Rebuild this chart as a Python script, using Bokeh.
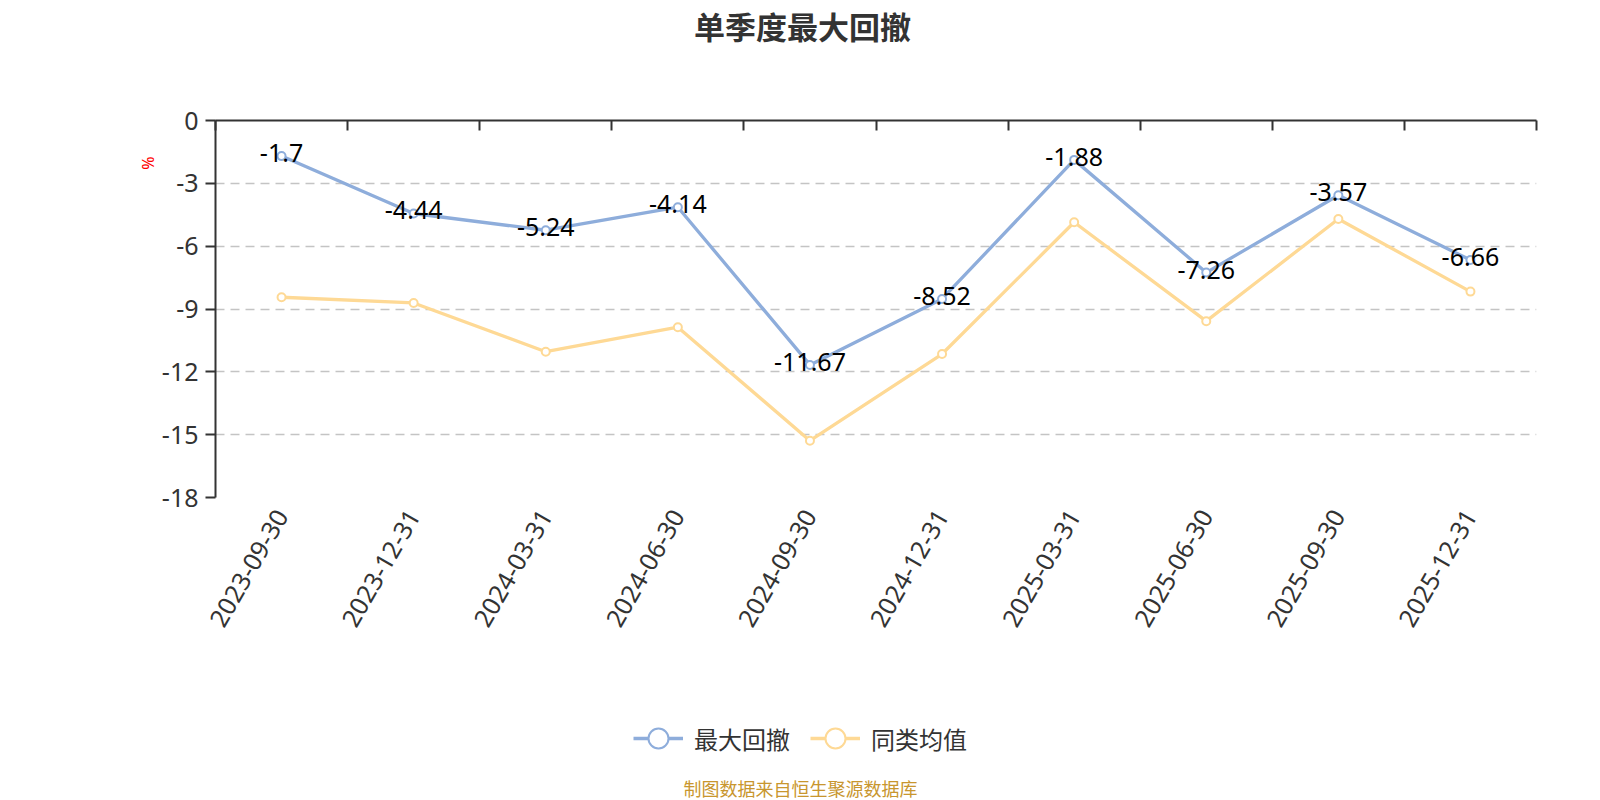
import math
from bokeh.plotting import figure
from bokeh.models import (Range1d, LinearAxis, FixedTicker, Legend, LegendItem,
                          ColumnDataSource, Grid, Title, Label)
from bokeh.layouts import column
from bokeh.embed import file_html
from bokeh.resources import INLINE
from bokeh.core.properties import value

# ---- data ----
dates = ["2023-09-30", "2023-12-31", "2024-03-31", "2024-06-30", "2024-09-30",
         "2024-12-31", "2025-03-31", "2025-06-30", "2025-09-30", "2025-12-31"]
max_drawdown = [-1.7, -4.44, -5.24, -4.14, -11.67, -8.52, -1.88, -7.26, -3.57, -6.66]
peer_avg = [-8.44, -8.71, -11.04, -9.87, -15.29, -11.15, -4.86, -9.58, -4.70, -8.17]
y_ticks = [0, -3, -6, -9, -12, -15, -18]
y_tick_labels = ["0", "-3", "-6", "-9", "-12", "-15", "-18"]
series_names = ["最大回撤", "同类均值"]
title_text = "单季度最大回撤"
footer_text = "制图数据来自恒生聚源数据库"
unit_text = "%"

BLUE = "#8eaddb"
YELLOW = "#fed995"
AXIS = "#333333"
NUM_FONT = "Noto Sans"
CJK_FONT = "Noto Sans CJK SC"

FW, FH = 1321, 377
L, R = 215, 64
TOP_H = 50            # title strip
T = 120 - TOP_H       # main figure top border
B = 140
BOTTOM_H = 800 - (TOP_H + T + FH + B)
PAGE_W = L + FW + R


def strip(height):
    f = figure(frame_width=FW, frame_height=height, output_backend="svg", toolbar_location=None,
               x_range=Range1d(L, L + FW), y_range=Range1d(0, height),
               x_axis_location=None, y_axis_location=None,
               min_border_left=L, min_border_right=R, min_border_top=0, min_border_bottom=0)
    f.outline_line_color = None
    f.xgrid.visible = False
    f.ygrid.visible = False
    f.border_fill_color = "white"
    return f


# ---- title strip ----
p0 = strip(TOP_H)
p0.add_layout(Label(x=PAGE_W / 2 + 2, y=TOP_H - 25, text=title_text, text_align="center",
                    text_baseline="middle", text_font=CJK_FONT, text_font_size="31px",
                    text_font_style="bold", text_color=AXIS))

# ---- main chart ----
xpos = [i + 0.5 for i in range(len(dates))]

p = figure(frame_width=FW, frame_height=FH, output_backend="svg", toolbar_location=None,
           x_range=Range1d(0, len(dates)), y_range=Range1d(min(y_ticks), max(y_ticks)),
           x_axis_location=None, y_axis_location=None,
           min_border_left=L, min_border_right=R, min_border_top=T, min_border_bottom=B)
p.outline_line_color = None
p.background_fill_color = "white"
p.border_fill_color = "white"

yax = LinearAxis(ticker=FixedTicker(ticks=y_ticks))
yax.major_label_overrides = {t: s for t, s in zip(y_ticks, y_tick_labels)}
yax.axis_line_color = AXIS
yax.axis_line_width = 2
yax.major_tick_line_color = AXIS
yax.major_tick_line_width = 2
yax.major_tick_in = 0
yax.major_tick_out = 10
yax.minor_tick_line_color = None
yax.major_label_text_font = NUM_FONT
yax.major_label_text_font_size = "25px"
yax.major_label_text_color = AXIS
yax.major_label_standoff = 7
p.add_layout(yax, "left")

p.add_layout(Title(text=unit_text, align="right", text_font=NUM_FONT, text_font_size="16px",
                   text_font_style="normal", text_color="#ff0000", offset=36, standoff=0), "left")

tax = LinearAxis(ticker=FixedTicker(ticks=list(range(len(dates) + 1))))
tax.axis_line_color = AXIS
tax.axis_line_width = 2
tax.major_tick_line_color = AXIS
tax.major_tick_line_width = 2
tax.major_tick_in = 10
tax.major_tick_out = 0
tax.minor_tick_line_color = None
tax.major_label_text_font_size = "0px"
tax.major_label_text_alpha = 0
tax.major_label_standoff = 0
p.add_layout(tax, "above")

bax = LinearAxis(ticker=FixedTicker(ticks=xpos))
bax.major_label_overrides = {x: d for x, d in zip(xpos, dates)}
bax.axis_line_color = None
bax.major_tick_line_color = None
bax.minor_tick_line_color = None
bax.major_label_orientation = math.pi / 3
bax.major_label_text_font = NUM_FONT
bax.major_label_text_font_size = "25px"
bax.major_label_text_color = AXIS
bax.major_label_standoff = 8
p.add_layout(bax, "below")

p.xgrid.visible = False
p.ygrid.visible = False
g = Grid(dimension=1, ticker=FixedTicker(ticks=y_ticks[1:]))
g.grid_line_color = "#c4c4c4"
g.grid_line_width = 1.5
g.grid_line_dash = "9 6"
p.add_layout(g)

src_b = ColumnDataSource(dict(x=xpos, y=max_drawdown, t=[f"{v:g}" for v in max_drawdown]))
src_y = ColumnDataSource(dict(x=xpos, y=peer_avg))

p.line("x", "y", source=src_y, line_color=YELLOW, line_width=3.3)
p.scatter("x", "y", source=src_y, size=8, fill_color="white", line_color=YELLOW, line_width=2)
p.line("x", "y", source=src_b, line_color=BLUE, line_width=3.3)
p.scatter("x", "y", source=src_b, size=8, fill_color="white", line_color=BLUE, line_width=2)

p.text("x", "y", text="t", source=src_b, text_align="center", text_baseline="middle",
       y_offset=-3, text_font=value(NUM_FONT), text_font_size="25px", text_color="black")

# ---- bottom strip: legend + footer ----
p2 = strip(BOTTOM_H)
# legend proxies: same data, lying outside this strip's ranges (so not drawn)
lb = p2.line("x", "y", source=src_b, line_color=BLUE, line_width=3.3)
mb = p2.scatter("x", "y", source=src_b, fill_color="white", line_color=BLUE, line_width=2)
ly = p2.line("x", "y", source=src_y, line_color=YELLOW, line_width=3.3)
my = p2.scatter("x", "y", source=src_y, fill_color="white", line_color=YELLOW, line_width=2)

page_top_of_p2 = 800 - BOTTOM_H
legend = Legend(items=[LegendItem(label=series_names[0], renderers=[lb, mb]),
                       LegendItem(label=series_names[1], renderers=[ly, my])],
                orientation="horizontal",
                location=(633 - L, BOTTOM_H - (738 - page_top_of_p2) - 28))
legend.padding = 0
legend.margin = 0
legend.spacing = 20
legend.glyph_width = 50
legend.glyph_height = 56
legend.label_standoff = 11
legend.label_text_font = CJK_FONT
legend.label_text_font_size = "24px"
legend.label_text_color = AXIS
legend.label_text_baseline = "middle"
legend.border_line_color = None
legend.background_fill_alpha = 0
p2.add_layout(legend, "center")

p2.add_layout(Label(x=PAGE_W / 2, y=BOTTOM_H - (787 - page_top_of_p2),
                    text=footer_text, text_align="center", text_baseline="middle",
                    text_font=CJK_FONT, text_font_size="18px", text_color="#c8962e"))

open("out.html", "w").write(file_html(column(p0, p, p2, spacing=0), INLINE))
